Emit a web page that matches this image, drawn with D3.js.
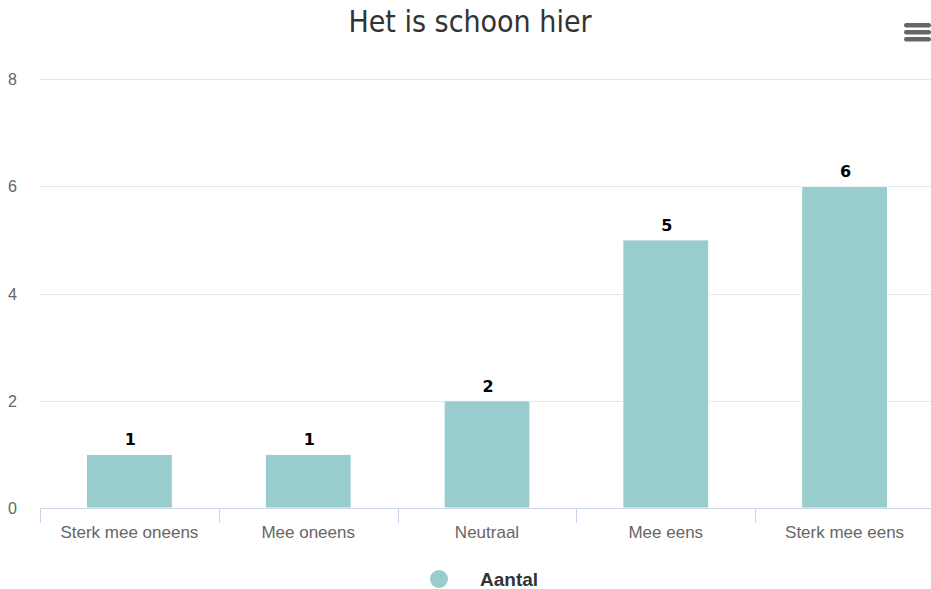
<!DOCTYPE html>
<html><head><meta charset="utf-8">
<script src="https://cdn.jsdelivr.net/npm/d3@7"></script>
<style>body{margin:0;background:#fff}svg{display:block}</style>
</head><body>
<svg id="c" width="931" height="589"></svg>
<script>
const titleText = "Het is schoon hier";
const categories = ["Sterk mee oneens", "Mee oneens", "Neutraal", "Mee eens", "Sterk mee eens"];
const values = [1, 1, 2, 5, 6];
const yTicks = [0, 2, 4, 6, 8];
const seriesName = "Aantal";

(function () {
const svg = d3.select("#c");
const W = 931, H = 589;
const pLeft = 40, pRight = 934, pTop = 79, pBottom = 508;

const x = d3.scaleBand().domain(categories).range([pLeft, pRight]).paddingInner(0.52).paddingOuter(0.26);
const xb = d3.scaleBand().domain(categories).range([pLeft, pRight]);
const y = d3.scaleLinear().domain([0, 8]).range([pBottom, pTop]);

svg.append("text").attr("x", 470).attr("y", 32).attr("text-anchor", "middle")
  .attr("font-family", "DejaVu Sans Condensed, DejaVu Sans").attr("font-size", 30).attr("fill", "#333333").text(titleText);

// hamburger
[0, 7, 14].forEach(d => svg.append("rect").attr("x", 904).attr("y", 23 + d).attr("width", 27).attr("height", 4.5).attr("rx", 2.2).attr("fill", "#666666"));

// grid
svg.append("g").selectAll("line").data(yTicks.filter(d => d > 0)).join("line")
  .attr("x1", pLeft).attr("x2", W).attr("y1", d => Math.round(y(d)) + 0.5).attr("y2", d => Math.round(y(d)) + 0.5)
  .attr("stroke", "#e6e6e6").attr("stroke-width", 1);

// y labels
svg.append("g").selectAll("text").data(yTicks).join("text")
  .attr("x", 17).attr("y", d => y(d) + 6).attr("text-anchor", "end")
  .attr("font-family", "Liberation Sans, Arial").attr("font-size", 16).attr("fill", "#666666").text(d => d);

// bars
svg.append("g").selectAll("rect").data(values).join("rect")
  .attr("x", (d, i) => x(categories[i])).attr("width", x.bandwidth())
  .attr("y", d => y(d)).attr("height", d => pBottom - y(d))
  .attr("fill", "#99cccc").attr("stroke", "#ffffff").attr("stroke-width", 1);

// data labels
svg.append("g").selectAll("text").data(values).join("text")
  .attr("x", (d, i) => x(categories[i]) + x.bandwidth() / 2 + 1).attr("y", d => y(d) - 9)
  .attr("text-anchor", "middle").attr("font-family", "DejaVu Sans, Verdana").attr("font-weight", "bold")
  .attr("font-size", 16).attr("fill", "#000000").text(d => d);

// x axis
svg.append("line").attr("x1", pLeft).attr("x2", W).attr("y1", pBottom + 0.5).attr("y2", pBottom + 0.5).attr("stroke", "#ccd6eb");
const bounds = categories.map(c => xb(c)).concat([pRight]);
svg.append("g").selectAll("line").data(bounds).join("line")
  .attr("x1", d => Math.round(d) + 0.5).attr("x2", d => Math.round(d) + 0.5).attr("y1", pBottom).attr("y2", pBottom + 15)
  .attr("stroke", "#ccd6eb");
svg.append("g").selectAll("text").data(categories).join("text")
  .attr("x", d => xb(d) + xb.bandwidth() / 2).attr("y", 538).attr("text-anchor", "middle")
  .attr("font-family", "Liberation Sans, Arial").attr("font-size", 17).attr("fill", "#666666").text(d => d);

// legend
svg.append("circle").attr("cx", 439).attr("cy", 579).attr("r", 9).attr("fill", "#99cccc");
svg.append("text").attr("x", 480).attr("y", 586).attr("font-family", "Liberation Sans, Arial").attr("font-weight", "bold")
  .attr("font-size", 19).attr("fill", "#333333").text(seriesName);
})();
</script>
</body></html>
